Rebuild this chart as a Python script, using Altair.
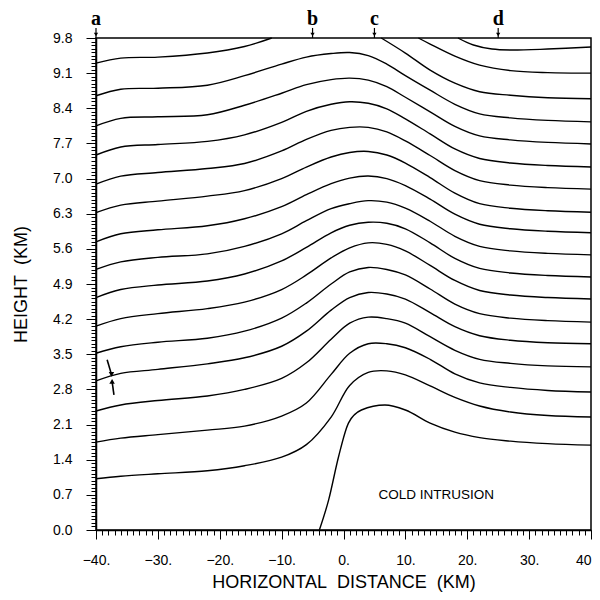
import altair as alt
import pandas as pd

# ---------------- data ----------------
X_GRID = [-40, -36, -30, -22, -16, -10, -6, -2, 1, 4, 7, 10, 14, 18, 22, 27, 33, 40]

ISO_865 = [8.65, 8.78, 8.80, 8.86, 9.05, 9.28, 9.42, 9.49, 9.51, 9.45, 9.28, 9.05, 8.76, 8.48, 8.29, 8.21, 8.16, 8.13]
ISO_805 = [8.05, 8.20, 8.23, 8.27, 8.46, 8.70, 8.87, 8.97, 9.00, 8.96, 8.83, 8.62, 8.33, 8.04, 7.85, 7.77, 7.72, 7.69]
ISO_747 = [7.47, 7.63, 7.68, 7.74, 7.87, 8.12, 8.34, 8.48, 8.53, 8.50, 8.39, 8.19, 7.89, 7.59, 7.40, 7.31, 7.26, 7.23]
ISO_689 = [6.89, 7.05, 7.12, 7.20, 7.30, 7.55, 7.78, 7.96, 8.02, 8.02, 7.93, 7.75, 7.46, 7.16, 6.96, 6.87, 6.82, 6.79]
ISO_632 = [6.32, 6.47, 6.55, 6.65, 6.76, 7.00, 7.23, 7.43, 7.52, 7.54, 7.47, 7.31, 7.02, 6.71, 6.50, 6.41, 6.36, 6.33]
ISO_574 = [5.74, 5.90, 5.98, 6.06, 6.20, 6.44, 6.68, 6.90, 7.01, 7.05, 7.00, 6.86, 6.59, 6.29, 6.09, 6.00, 5.95, 5.92]
ISO_519 = [5.19, 5.34, 5.43, 5.50, 5.65, 5.90, 6.16, 6.40, 6.50, 6.56, 6.53, 6.41, 6.15, 5.85, 5.65, 5.56, 5.51, 5.48]
ISO_463 = [4.63, 4.79, 4.88, 4.96, 5.10, 5.36, 5.63, 5.92, 6.07, 6.13, 6.11, 6.00, 5.72, 5.41, 5.21, 5.12, 5.07, 5.04]
ISO_406 = [4.06, 4.21, 4.31, 4.41, 4.54, 4.79, 5.08, 5.42, 5.62, 5.72, 5.69, 5.56, 5.27, 4.97, 4.77, 4.68, 4.63, 4.60]
ISO_352 = [3.52, 3.65, 3.74, 3.82, 3.96, 4.22, 4.52, 4.90, 5.14, 5.23, 5.19, 5.08, 4.80, 4.50, 4.31, 4.22, 4.17, 4.14]
ISO_297 = [2.97, 3.12, 3.20, 3.31, 3.43, 3.66, 3.96, 4.38, 4.63, 4.73, 4.70, 4.60, 4.33, 4.05, 3.87, 3.78, 3.73, 3.71]
ISO_237 = [2.37, 2.49, 2.58, 2.67, 2.80, 3.02, 3.33, 3.80, 4.12, 4.24, 4.21, 4.12, 3.85, 3.58, 3.40, 3.32, 3.27, 3.25]
ISO_175 = [1.75, 1.83, 1.90, 1.99, 2.07, 2.27, 2.53, 3.10, 3.52, 3.71, 3.71, 3.63, 3.40, 3.11, 2.93, 2.84, 2.78, 2.75]
ISO_102 = [1.02, 1.07, 1.12, 1.18, 1.28, 1.45, 1.70, 2.25, 2.88, 3.14, 3.17, 3.09, 2.87, 2.64, 2.47, 2.35, 2.28, 2.25]

# curves that leave / enter through the top of the domain
TOP_LEFT_X = [-40, -36, -30, -22, -16, -11.6]
TOP_LEFT_Y = [9.30, 9.40, 9.42, 9.50, 9.63, 9.80]
TOP_RIGHT_X = [6.1, 10, 14, 18, 22, 27, 33, 40]
TOP_RIGHT_Y = [9.80, 9.50, 9.16, 8.90, 8.73, 8.66, 8.61, 8.59]
EMERGE2_X = [12.1, 14, 18, 22, 27, 33, 40]
EMERGE2_Y = [9.80, 9.68, 9.44, 9.26, 9.15, 9.11, 9.10]
EMERGE_D_X = [18.5, 21, 24, 27, 33, 40]
EMERGE_D_Y = [9.80, 9.66, 9.58, 9.56, 9.58, 9.62]

# cold-intrusion boundary
INTRUSION_X = [-3.9, -2.4, -0.8, 0.8, 2.9, 6.7, 10, 14, 18, 22, 27, 33, 40]
INTRUSION_Y = [0.0, 0.60, 1.46, 2.13, 2.39, 2.49, 2.39, 2.13, 1.95, 1.84, 1.77, 1.72, 1.69]

# section labels at the top
SECTION_LABELS = ["a", "b", "c", "d"]
SECTION_X = [-40, -5, 5, 25]

# annotation
NOTE_TEXT = ["COLD INTRUSION"]
NOTE_X = [15]
NOTE_Y = [0.70]

# the pair of arrows at the left
ARROW_TAIL_X = [-38.2, -37.1]
ARROW_TAIL_Y = [3.39, 2.69]
ARROW_HEAD_X = [-37.5, -37.4]
ARROW_HEAD_Y = [3.10, 2.96]
ARROW_SHAPE = ["triangle-down", "triangle-up"]

# axis ticks
X_MAJOR = [-40, -30, -20, -10, 0, 10, 20, 30, 40]
X_MINOR = list(range(-40, 41))
Y_MAJOR = [0.0, 0.7, 1.4, 2.1, 2.8, 3.5, 4.2, 4.9, 5.6, 6.3, 7.0, 7.7, 8.4, 9.1, 9.8]
Y_MINOR = [round(i * 0.07, 2) for i in range(141)]

# ---------------- build tables ----------------
rows = []
grid_curves = [ISO_865, ISO_805, ISO_747, ISO_689, ISO_632, ISO_574, ISO_519,
               ISO_463, ISO_406, ISO_352, ISO_297, ISO_237, ISO_175, ISO_102]
for ci, ys in enumerate(grid_curves):
    for k, (xv, yv) in enumerate(zip(X_GRID, ys)):
        rows.append({"x": xv, "y": yv, "curve": f"c{ci}", "order": k})
extra = [("tl", TOP_LEFT_X, TOP_LEFT_Y), ("tr", TOP_RIGHT_X, TOP_RIGHT_Y),
         ("e2", EMERGE2_X, EMERGE2_Y), ("ed", EMERGE_D_X, EMERGE_D_Y)]
for name, xs, ys in extra:
    for k, (xv, yv) in enumerate(zip(xs, ys)):
        rows.append({"x": xv, "y": yv, "curve": name, "order": k})
lines_df = pd.DataFrame(rows)
intr_df = pd.DataFrame({"x": INTRUSION_X, "y": INTRUSION_Y,
                        "order": list(range(len(INTRUSION_X)))})

labels_df = pd.DataFrame({"label": SECTION_LABELS, "x": SECTION_X})
note_df = pd.DataFrame({"text": NOTE_TEXT, "x": NOTE_X, "y": NOTE_Y})
arrows_df = pd.DataFrame({"x": ARROW_TAIL_X, "y": ARROW_TAIL_Y,
                          "x2": ARROW_HEAD_X, "y2": ARROW_HEAD_Y,
                          "shape": ARROW_SHAPE})

# ---------------- scales / axes ----------------
FONT = "Liberation Sans"
xscale = alt.Scale(domain=[-40, 40], nice=False, zero=False)
yscale = alt.Scale(domain=[0, 9.8], nice=False, zero=False)

common = dict(grid=False, labelOverlap=False, labelFlush=False,
              domainColor="black", domainWidth=1.5, tickColor="black", tickWidth=1)

xaxis_major = alt.Axis(
    orient="bottom", values=X_MAJOR,
    labelExpr="datum.value == 40 ? '40' : format(datum.value, 'd') + '.'",
    labelAlign={"condition": {"test": "datum.value == 40", "value": "right"}, "value": "center"},
    tickSize=9, labelFont=FONT, labelFontSize=14, labelColor="black", labelPadding=14,
    titleFont=FONT, titleFontSize=18, titleFontWeight="normal", titleColor="black",
    titlePadding=6, **common,
)
yaxis_major = alt.Axis(
    orient="left", values=Y_MAJOR, format=".1f",
    tickSize=10, labelFont=FONT, labelFontSize=14, labelColor="black", labelPadding=14,
    titleFont=FONT, titleFontSize=18, titleFontWeight="normal", titleColor="black",
    titlePadding=22, **common,
)
xaxis_minor = alt.Axis(orient="bottom", values=X_MINOR, tickSize=5, labels=False,
                       title=None, domain=False, grid=False, tickColor="black", tickWidth=1)
yaxis_minor = alt.Axis(orient="left", values=Y_MINOR, tickSize=5, labels=False,
                       title=None, domain=False, grid=False, tickColor="black", tickWidth=1)

curves = alt.Chart(lines_df).mark_line(
    interpolate="catmull-rom", color="black", strokeWidth=1.4
).encode(
    x=alt.X("x:Q", scale=xscale, axis=xaxis_major, title="HORIZONTAL\u00a0\u00a0DISTANCE\u00a0\u00a0(KM)"),
    y=alt.Y("y:Q", scale=yscale, axis=yaxis_major, title="HEIGHT\u00a0\u00a0(KM)"),
    detail="curve:N",
    order="order:Q",
)

intrusion = alt.Chart(intr_df).mark_line(
    interpolate="monotone", color="black", strokeWidth=1.4
).encode(
    x=alt.X("x:Q", scale=xscale, axis=None),
    y=alt.Y("y:Q", scale=yscale, axis=None),
    order="order:Q",
)

minor = alt.Chart(lines_df).mark_point(opacity=0, size=1).encode(
    x=alt.X("x:Q", scale=xscale, axis=xaxis_minor),
    y=alt.Y("y:Q", scale=yscale, axis=yaxis_minor),
)

label_text = alt.Chart(labels_df).mark_text(
    font="Liberation Serif", fontSize=20, fontWeight="bold", color="black",
    baseline="alphabetic", align="center"
).encode(
    x=alt.X("x:Q", scale=xscale, axis=None),
    y=alt.datum(10.06, scale=yscale, axis=None),
    text="label:N",
)

label_stem = alt.Chart(labels_df).mark_rule(color="black", strokeWidth=1.2).encode(
    x=alt.X("x:Q", scale=xscale, axis=None),
    y=alt.datum(9.8, scale=yscale, axis=None),
    y2=alt.datum(10.0),
)
label_head = alt.Chart(labels_df).mark_point(
    shape="triangle-down", filled=True, color="black", size=18, opacity=1
).encode(
    x=alt.X("x:Q", scale=xscale, axis=None),
    y=alt.datum(9.87, scale=yscale, axis=None),
)

note = alt.Chart(note_df).mark_text(
    font=FONT, fontSize=13.5, color="black", align="center", baseline="middle"
).encode(
    x=alt.X("x:Q", scale=xscale, axis=None),
    y=alt.Y("y:Q", scale=yscale, axis=None),
    text="text:N",
)

arrow_shaft = alt.Chart(arrows_df).mark_rule(color="black", strokeWidth=1.6).encode(
    x=alt.X("x:Q", scale=xscale, axis=None), y=alt.Y("y:Q", scale=yscale, axis=None),
    x2="x2:Q", y2="y2:Q",
)
arrow_head = alt.Chart(arrows_df).mark_point(
    filled=True, color="black", size=30, opacity=1
).encode(
    x=alt.X("x2:Q", scale=xscale, axis=None), y=alt.Y("y2:Q", scale=yscale, axis=None),
    shape=alt.Shape("shape:N", scale=None, legend=None),
)

chart = alt.layer(
    minor, curves, intrusion, label_stem, label_head, label_text, note,
    arrow_shaft, arrow_head
).resolve_axis(
    x="independent", y="independent"
).properties(
    width=495, height=492,
    autosize=alt.AutoSizeParams(type="none"),
    padding={"left": 88, "top": 30, "right": 1, "bottom": 62},
    background="white",
).configure_view(stroke="black", strokeWidth=1.5)

chart.save("out.html", embed_options={"renderer": "svg", "actions": False})
